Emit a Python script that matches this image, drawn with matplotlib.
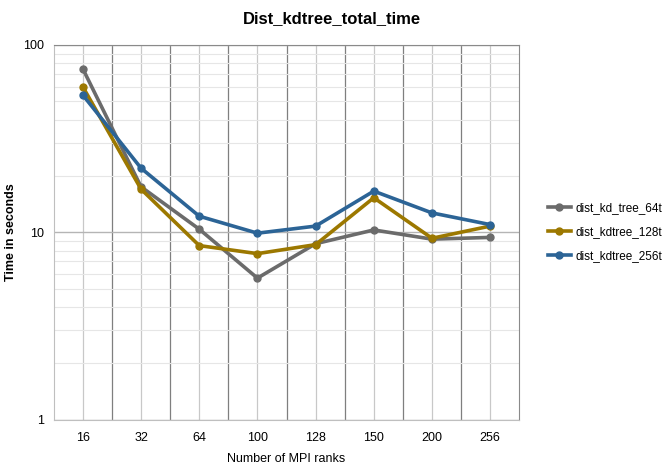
import matplotlib.pyplot as plt
import numpy as np
from matplotlib.ticker import FixedLocator, NullFormatter, LogLocator

ranks = ['16', '32', '64', '100', '128', '150', '200', '256']
kd_tree_64t = [74.5, 17.5, 10.4, 5.7, 8.7, 10.3, 9.2, 9.4]
kdtree_128t = [59.7, 17.0, 8.5, 7.7, 8.6, 15.3, 9.3, 10.8]
kdtree_256t = [54.0, 22.0, 12.2, 9.9, 10.8, 16.6, 12.7, 11.0]

plt.rcParams['font.family'] = ['Liberation Sans', 'DejaVu Sans']

fig = plt.figure(figsize=(6.64, 4.68), dpi=100)
ax = fig.add_axes([0.081, 0.103, 0.701, 0.801])

x = np.arange(len(ranks))
ax.plot(x, kd_tree_64t, color='#6b6b6b', lw=2.6, marker='o', ms=5, label='dist_kd_tree_64t', zorder=3)
ax.plot(x, kdtree_128t, color='#9c7800', lw=2.6, marker='o', ms=5, label='dist_kdtree_128t', zorder=3)
ax.plot(x, kdtree_256t, color='#2c6496', lw=2.6, marker='o', ms=5, label='dist_kdtree_256t', zorder=3)

ax.set_yscale('log')
ax.set_ylim(1, 100)
ax.set_xlim(-0.5, len(ranks) - 0.5)
ax.set_yticks([1, 10, 100])
ax.set_yticklabels(['1', '10', '100'])
ax.yaxis.set_minor_locator(LogLocator(base=10, subs=np.arange(2, 10)))
ax.yaxis.set_minor_formatter(NullFormatter())
ax.set_xticks(x)
ax.set_xticklabels(ranks)
ax.xaxis.set_minor_locator(FixedLocator(x[:-1] + 0.5))
ax.tick_params(which='both', length=0)
ax.tick_params(axis='x', pad=9, labelsize=9)
ax.tick_params(axis='y', pad=7, labelsize=9)

# grid lines
ax.grid(True, which='major', axis='y', color='#b5b5b5', lw=1)
ax.grid(True, which='minor', axis='y', color='#e6e6e6', lw=0.8)
ax.grid(True, which='major', axis='x', color='#c8c8c8', lw=0.9)
ax.grid(True, which='minor', axis='x', color='#7f7f7f', lw=0.9)
ax.set_axisbelow(True)

for side in ['top', 'right']:
    ax.spines[side].set_color('#8a8a8a')
ax.spines['left'].set_color('#bfbfbf')
ax.spines['bottom'].set_color('#bfbfbf')

fig.suptitle('Dist_kdtree_total_time', fontsize=12, fontweight='bold', x=0.5, y=0.977)
ax.set_xlabel('Number of MPI ranks', fontsize=9, labelpad=6)
ax.set_ylabel('Time in seconds', fontsize=9, fontweight='bold')
ax.yaxis.set_label_coords(-0.078, 0.5)

ax.legend(loc='center left', bbox_to_anchor=(1.038, 0.5), frameon=False,
          fontsize=8.5, handlelength=2.0, handletextpad=0.35, labelspacing=1.0)

fig.savefig('out.png', dpi=100)
